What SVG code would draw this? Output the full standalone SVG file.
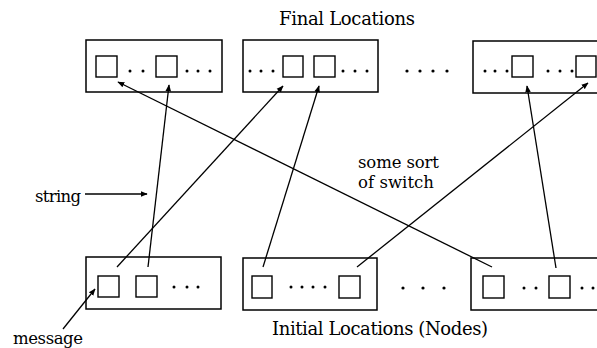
<svg xmlns="http://www.w3.org/2000/svg" width="597" height="348" viewBox="0 0 597 348">
<defs>
<marker id="ah" viewBox="0 0 10 10" refX="9" refY="5" markerWidth="7" markerHeight="7" markerUnits="userSpaceOnUse" orient="auto">
<path d="M0,1 L10,5 L0,9 Z" fill="#000"/>
</marker>
<style>
.box{fill:none;stroke:#000;stroke-width:1.5}
.sq{fill:none;stroke:#000;stroke-width:1.4}
.dot{fill:#000}
.ln{fill:none;stroke:#000;stroke-width:1.3;marker-end:url(#ah)}
text{font-family:"DejaVu Serif","Liberation Serif",serif;fill:#000}
.t17{font-size:18px}
.t15{font-size:16.5px}
</style>
</defs>
<rect width="597" height="348" fill="#fff"/>
<text class="t17" x="279" y="25" textLength="136">Final  Locations</text>
<g id="final1">
<rect class="box" x="86" y="40" width="136" height="52"/>
<rect class="sq" x="96" y="56" width="21" height="21"/>
<circle class="dot" cx="130" cy="71" r="1.5"/><circle class="dot" cx="143" cy="71" r="1.5"/>
<rect class="sq" x="156" y="56" width="21" height="21"/>
<circle class="dot" cx="187" cy="71" r="1.5"/><circle class="dot" cx="198" cy="71" r="1.5"/><circle class="dot" cx="210" cy="71" r="1.5"/>
</g>
<g id="final2">
<rect class="box" x="243" y="40" width="135" height="52"/>
<circle class="dot" cx="250" cy="71" r="1.5"/><circle class="dot" cx="261" cy="71" r="1.5"/><circle class="dot" cx="273" cy="71" r="1.5"/>
<rect class="sq" x="283" y="56" width="20" height="21"/>
<rect class="sq" x="314" y="56" width="21" height="21"/>
<circle class="dot" cx="343" cy="71" r="1.5"/><circle class="dot" cx="355" cy="71" r="1.5"/><circle class="dot" cx="367" cy="71" r="1.5"/>
</g>
<g id="final-gap">
<circle class="dot" cx="407" cy="71" r="1.6"/><circle class="dot" cx="420" cy="71" r="1.6"/><circle class="dot" cx="433" cy="71" r="1.6"/><circle class="dot" cx="447" cy="71" r="1.6"/>
</g>
<g id="final3">
<rect class="box" x="473" y="41" width="128" height="52"/>
<circle class="dot" cx="485" cy="71" r="1.5"/><circle class="dot" cx="495" cy="71" r="1.5"/><circle class="dot" cx="507" cy="71" r="1.5"/>
<rect class="sq" x="512" y="56" width="21" height="21"/>
<circle class="dot" cx="548" cy="71" r="1.5"/><circle class="dot" cx="560" cy="71" r="1.5"/><circle class="dot" cx="572" cy="71" r="1.5"/>
<rect class="sq" x="576" y="56" width="20" height="21"/>
</g>
<g id="init1">
<rect class="box" x="86" y="257" width="135" height="52"/>
<rect class="sq" x="98" y="276" width="21" height="21"/>
<rect class="sq" x="136" y="276" width="21" height="21"/>
<circle class="dot" cx="174" cy="287" r="1.5"/><circle class="dot" cx="187" cy="287" r="1.5"/><circle class="dot" cx="198" cy="287" r="1.5"/>
</g>
<g id="init2">
<rect class="box" x="243" y="258" width="134" height="52"/>
<rect class="sq" x="252" y="276" width="20" height="22"/>
<circle class="dot" cx="291" cy="287" r="1.5"/><circle class="dot" cx="302" cy="287" r="1.5"/><circle class="dot" cx="313" cy="287" r="1.5"/><circle class="dot" cx="325" cy="287" r="1.5"/>
<rect class="sq" x="339" y="276" width="21" height="22"/>
</g>
<g id="init-gap">
<circle class="dot" cx="403" cy="288" r="1.6"/><circle class="dot" cx="423" cy="288" r="1.6"/><circle class="dot" cx="444" cy="288" r="1.6"/>
</g>
<g id="init3">
<rect class="box" x="471" y="258" width="130" height="52"/>
<rect class="sq" x="483" y="276" width="21" height="22"/>
<circle class="dot" cx="524" cy="288" r="1.5"/><circle class="dot" cx="536" cy="288" r="1.5"/>
<rect class="sq" x="549" y="276" width="21" height="22"/>
<circle class="dot" cx="582" cy="288" r="1.5"/><circle class="dot" cx="593" cy="288" r="1.5"/>
</g>
<g id="connectors">
<line class="ln" x1="117" y1="267" x2="283" y2="86"/>
<line class="ln" x1="148" y1="267" x2="169" y2="85"/>
<line class="ln" x1="263" y1="267" x2="319" y2="86"/>
<line class="ln" x1="357" y1="267" x2="588" y2="83"/>
<line class="ln" x1="492" y1="267" x2="118" y2="82"/>
<line class="ln" x1="556" y1="268" x2="527" y2="86"/>
<line class="ln" x1="85" y1="194" x2="147" y2="194"/>
<line class="ln" x1="63" y1="329" x2="95" y2="289"/>
</g>
<g id="labels">
<text class="t15" x="35" y="202" textLength="46">string</text>
<text class="t15" x="358" y="168" textLength="81">some sort</text>
<text class="t15" x="358" y="188" textLength="76">of switch</text>
<text class="t15" x="13" y="344" textLength="70">message</text>
<text class="t17" x="272" y="335" textLength="216">Initial Locations (Nodes)</text>
</g>
</svg>
